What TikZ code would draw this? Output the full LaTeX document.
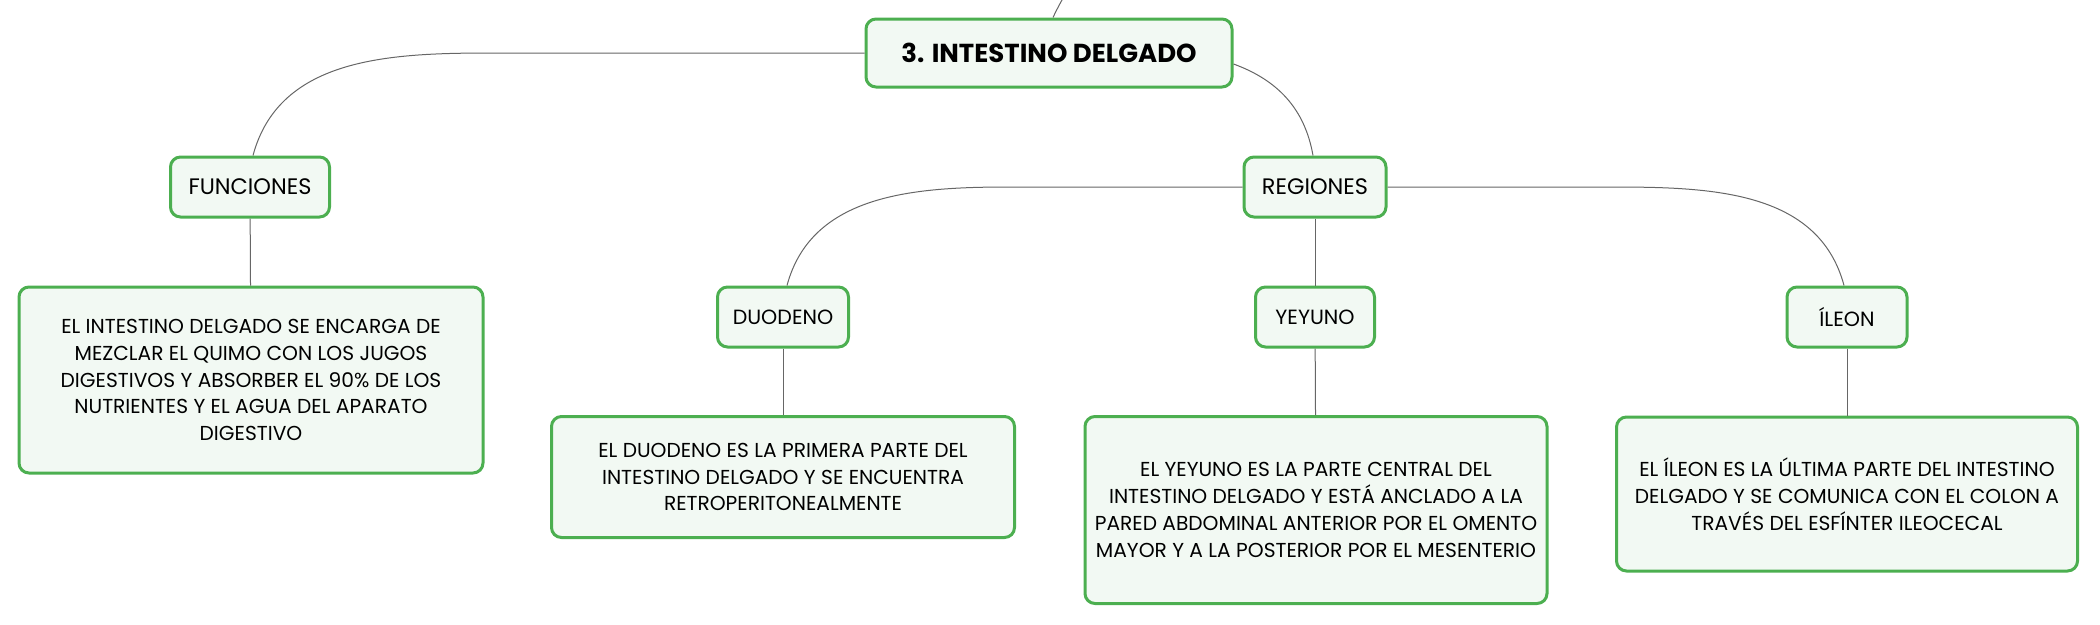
\documentclass[tikz,border=0pt]{standalone}
\usepackage{fontspec}
\setmainfont{Poppins}
\definecolor{boxgreen}{HTML}{4CAF50}
\definecolor{boxfill}{HTML}{F2F9F3}
\definecolor{linkgray}{HTML}{666666}
\begin{document}
\begin{tikzpicture}[x=1pt,y=-1pt,
    box/.style={rectangle,rounded corners=10pt,draw=boxgreen,line width=3pt,fill=boxfill,inner sep=0pt,align=center,text=black},
    topic/.style={box,minimum width=366pt,minimum height=68pt,font=\fontsize{26}{30}\selectfont\bfseries},
    branch/.style={box,minimum height=60pt,font=\fontsize{22.4}{26}\selectfont},
    part/.style={box,minimum height=60pt,font=\fontsize{20.6}{24}\selectfont},
    note/.style={box,font=\fontsize{20.2}{26.8}\selectfont},
    link/.style={draw=linkgray,line width=1pt}]
  \useasboundingbox (0,0) rectangle (2100,624);
  \begin{scope}
    \node[topic] (main) at (1049,53) {3. INTESTINO DELGADO};
    \node[branch,minimum width=159pt] (fun) at (250,187) {FUNCIONES};
    \node[branch,minimum width=142pt] (reg) at (1315,187) {REGIONES};
    \node[part,minimum width=131pt] (duo) at (783,317) {DUODENO};
    \node[part,minimum width=119pt] (yey) at (1315,317) {YEYUNO};
    \node[part,minimum width=120pt] (ile) at (1847,317) {ÍLEON};
  \end{scope}
  \begin{scope}
    \node[note,minimum width=464pt,minimum height=186pt] (funtxt) at (251,380)
      {EL INTESTINO DELGADO SE ENCARGA DE\\MEZCLAR EL QUIMO CON LOS JUGOS\\DIGESTIVOS Y ABSORBER EL 90\% DE LOS\\NUTRIENTES Y EL AGUA DEL APARATO\\DIGESTIVO};
    \node[note,minimum width=463pt,minimum height=121pt] (duotxt) at (783,477)
      {EL DUODENO ES LA PRIMERA PARTE DEL\\INTESTINO DELGADO Y SE ENCUENTRA\\RETROPERITONEALMENTE};
    \node[note,minimum width=462pt,minimum height=187pt] (yeytxt) at (1316,510)
      {EL YEYUNO ES LA PARTE CENTRAL DEL\\INTESTINO DELGADO Y ESTÁ ANCLADO A LA\\PARED ABDOMINAL ANTERIOR POR EL OMENTO\\MAYOR Y A LA POSTERIOR POR EL MESENTERIO};
    \node[note,minimum width=461pt,minimum height=154pt] (iletxt) at (1847,494)
      {EL ÍLEON ES LA ÚLTIMA PARTE DEL INTESTINO\\DELGADO Y SE COMUNICA CON EL COLON A\\TRAVÉS DEL ESFÍNTER ILEOCECAL};
  \end{scope}
  % bends of the connectors
  \coordinate (parent) at (1078,-30);
  \coordinate (funbend) at (495,53);
  \coordinate (duobend) at (1010,187);
  \coordinate (ilebend) at (1607,187);
  \begin{scope}[every edge/.style={link}]
    \path (fun) edge (funtxt);
    \path (reg) edge (yey);
    \path (duo) edge (duotxt);
    \path (yey) edge (yeytxt);
    \path (ile) edge (iletxt);
  \end{scope}
  \draw[link] ([xshift=4pt]main.north) to[out=65,in=-115] (parent);
  \draw[link] (main.west) -- (funbend) to[out=180,in=75] ([xshift=3pt]fun.north);
  \draw[link] ([yshift=-11pt]main.east) to[out=-20,in=100] ([xshift=-2pt]reg.north);
  \draw[link] (reg.west) -- (duobend) to[out=180,in=75] ([xshift=4pt]duo.north);
  \draw[link] (reg.east) -- (ilebend) to[out=0,in=105] ([xshift=-3pt]ile.north);
\end{tikzpicture}
\end{document}
